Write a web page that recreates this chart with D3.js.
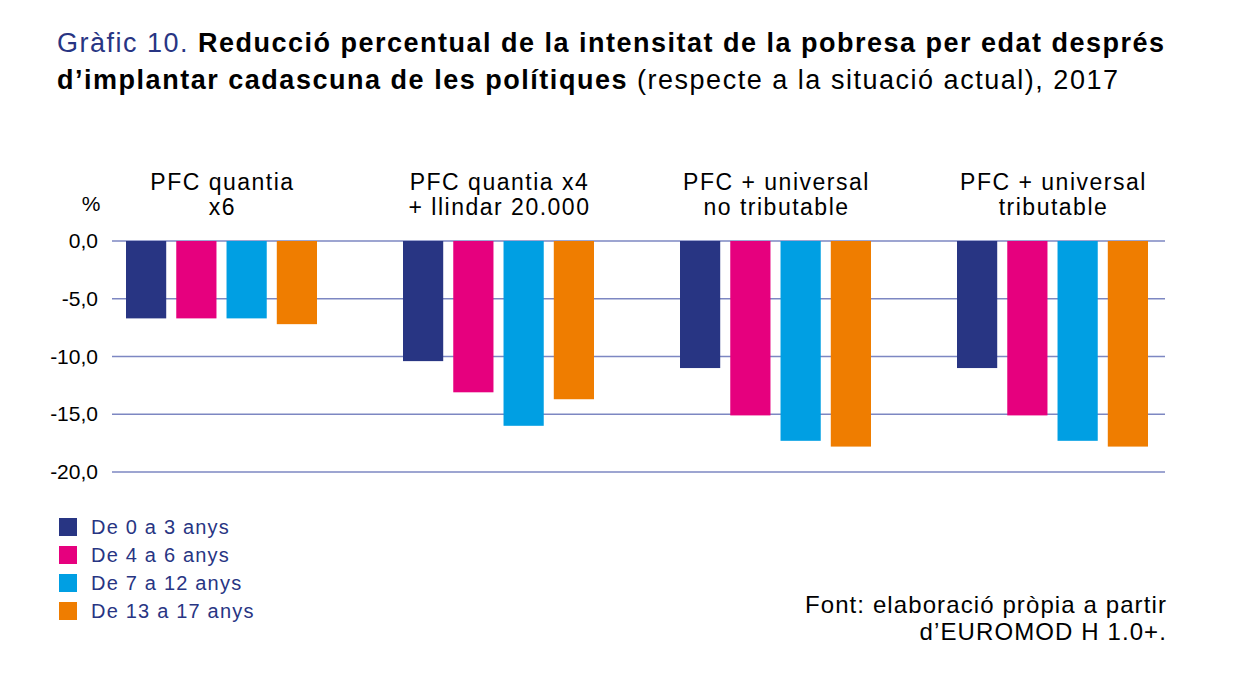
<!DOCTYPE html>
<html>
<head>
<meta charset="utf-8">
<script src="https://cdn.jsdelivr.net/npm/d3@7"></script>
<style>
  body { margin: 0; background: #fff; }
  svg { font-family: "Liberation Sans", Arial, sans-serif; }
</style>
</head>
<body>
<svg></svg>
<script>
// data
const policies = [
  ['PFC quantia', 'x6'],
  ['PFC quantia x4', '+ llindar 20.000'],
  ['PFC + universal', 'no tributable'],
  ['PFC + universal', 'tributable']
];
const ageGroups = ['De 0 a 3 anys', 'De 4 a 6 anys', 'De 7 a 12 anys', 'De 13 a 17 anys'];
const colors = ['#283583', '#e6007e', '#009fe3', '#ef7d00'];
// one array per age group, one value per policy
const age0to3 = [-6.7, -10.4, -11.0, -11.0];
const age4to6 = [-6.7, -13.1, -15.1, -15.1];
const age7to12 = [-6.7, -16.0, -17.3, -17.3];
const age13to17 = [-7.2, -13.7, -17.8, -17.8];
const yTicks = [0, -5, -10, -15, -20];

const series = [age0to3, age4to6, age7to12, age13to17];

const width = 1252, height = 692;
const svg = d3.select('svg')
    .attr('width', width)
    .attr('height', height);

// title, both lines stretched to the widths of the original
const title = svg.append('g');
const t1 = title.append('text')
    .attr('x', 57).attr('y', 52)
    .attr('font-size', 27)
    .attr('textLength', 1107)
    .attr('lengthAdjust', 'spacing');
t1.append('tspan').attr('fill', '#283583').text('Gràfic 10. ');
t1.append('tspan').attr('font-weight', 'bold').attr('fill', '#000')
    .text('Reducció percentual de la intensitat de la pobresa per edat després');
const t2 = title.append('text')
    .attr('x', 57).attr('y', 89)
    .attr('font-size', 27)
    .attr('textLength', 1061)
    .attr('lengthAdjust', 'spacing');
t2.append('tspan').attr('font-weight', 'bold').attr('fill', '#000')
    .text('d’implantar cadascuna de les polítiques');
t2.append('tspan').attr('fill', '#000').text(' (respecte a la situació actual), 2017');

// scales
const x0 = d3.scaleBand()
    .domain(d3.range(policies.length))
    .range([83, 1191]);
const x1 = d3.scaleBand()
    .domain(d3.range(ageGroups.length))
    .range([0, 191])
    .paddingInner(0.2);
const y = d3.scaleLinear()
    .domain([0, -20])
    .range([241, 472]);

const xOff = (x0.bandwidth() - 191) / 2;

// gridlines
svg.append('g')
    .selectAll('line').data(yTicks)
    .enter().append('line')
        .attr('x1', 112).attr('x2', 1165)
        .attr('y1', d => y(d)).attr('y2', d => y(d))
        .attr('stroke', '#7d87c2')
        .attr('stroke-width', 1.5);

// y axis labels
const yAxis = svg.append('g')
    .attr('transform', 'translate(98,0)')
    .call(d3.axisLeft(y).tickValues(yTicks).tickSize(0).tickPadding(0)
        .tickFormat(d => d3.format('.1f')(d).replace('.', ',').replace('−', '-')));
yAxis.select('.domain').remove();
yAxis.selectAll('text')
    .attr('font-size', 21)
    .attr('font-family', '"Liberation Sans", Arial, sans-serif')
    .attr('fill', '#000');

svg.append('text')
    .attr('x', 91).attr('y', 211)
    .attr('text-anchor', 'middle')
    .attr('font-size', 21)
    .text('%');

// bars
const groups = svg.append('g')
    .selectAll('g').data(policies)
    .enter().append('g')
        .attr('transform', (d, i) => `translate(${x0(i) + xOff},0)`);

groups.selectAll('rect')
    .data((d, i) => series.map((s, j) => ({ j, v: s[i] })))
    .enter().append('rect')
        .attr('x', d => x1(d.j))
        .attr('width', x1.bandwidth())
        .attr('y', y(0))
        .attr('height', d => y(d.v) - y(0))
        .attr('fill', d => colors[d.j]);

// group labels
groups.append('text')
    .attr('text-anchor', 'middle')
    .attr('font-size', 23)
    .attr('letter-spacing', 1.5)
    .selectAll('tspan').data(d => d)
    .enter().append('tspan')
        .attr('x', 191 / 2 + 1)
        .attr('y', (d, i) => 190 + i * 25)
        .text(d => d);

// legend
const legend = svg.append('g')
    .selectAll('g').data(ageGroups)
    .enter().append('g')
        .attr('transform', (d, i) => `translate(59,${518 + i * 28})`);
legend.append('rect')
    .attr('width', 18).attr('height', 18)
    .attr('fill', (d, i) => colors[i]);
legend.append('text')
    .attr('x', 32).attr('y', 16)
    .attr('font-size', 20)
    .attr('letter-spacing', 1.2)
    .attr('fill', '#283583')
    .text(d => d);

// source
svg.append('text')
    .attr('text-anchor', 'end')
    .attr('font-size', 24)
    .attr('letter-spacing', 1.1)
    .selectAll('tspan').data(['Font: elaboració pròpia a partir', 'd’EUROMOD H 1.0+.'])
    .enter().append('tspan')
        .attr('x', 1167)
        .attr('y', (d, i) => 613 + i * 27)
        .text(d => d);
</script>
</body>
</html>
